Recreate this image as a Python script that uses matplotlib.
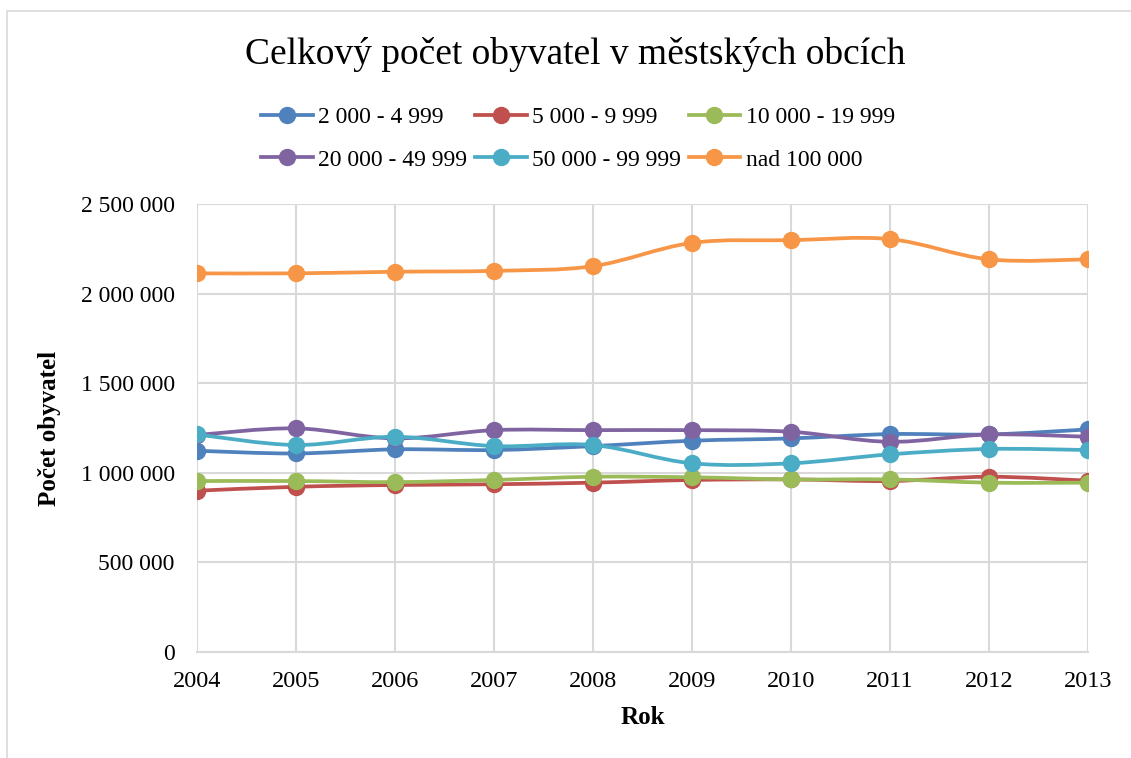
import matplotlib
matplotlib.use("Agg")
import matplotlib.pyplot as plt
from matplotlib.path import Path
from matplotlib.patches import PathPatch, Rectangle
from matplotlib.lines import Line2D
from matplotlib.ticker import FuncFormatter, MultipleLocator

years = [2004, 2005, 2006, 2007, 2008, 2009, 2010, 2011, 2012, 2013]
labels = ["2 000 - 4 999", "5 000 - 9 999", "10 000 - 19 999",
          "20 000 - 49 999", "50 000 - 99 999", "nad 100 000"]
s_2000 = [1123000, 1108000, 1131000, 1127000, 1149000, 1179000, 1192000, 1216000, 1214000, 1242000]
s_5000 = [900000, 922000, 932000, 936000, 945000, 960000, 963000, 954000, 978000, 956000]
s_10000 = [954000, 954000, 948000, 960000, 978000, 975000, 963000, 963000, 945000, 945000]
s_20000 = [1211000, 1248000, 1192000, 1238000, 1238000, 1238000, 1229000, 1173000, 1214000, 1201000]
s_50000 = [1214000, 1155000, 1201000, 1149000, 1155000, 1053000, 1053000, 1103000, 1133000, 1127000]
s_100000 = [2113000, 2113000, 2122000, 2127000, 2153000, 2283000, 2298000, 2304000, 2191000, 2191000]
series = [s_2000, s_5000, s_10000, s_20000, s_50000, s_100000]
colors = ["#4F81BD", "#C0504D", "#9BBB59", "#8064A2", "#4BACC6", "#F79646"]

plt.rcParams['font.family'] = ['Liberation Serif', 'DejaVu Serif']

fig = plt.figure(figsize=(11.31, 7.58), dpi=100)
ax = fig.add_axes([197/1131, 1-652/758, (1088-197)/1131, (652-204)/758])

def smooth_path(xs, ys):
    n = len(xs)
    verts = [(xs[0], ys[0])]
    codes = [Path.MOVETO]
    for i in range(n - 1):
        x0, y0 = (xs[i-1], ys[i-1]) if i > 0 else (xs[i], ys[i])
        x1, y1 = xs[i], ys[i]
        x2, y2 = xs[i+1], ys[i+1]
        x3, y3 = (xs[i+2], ys[i+2]) if i + 2 < n else (xs[i+1], ys[i+1])
        c1 = (x1 + (x2 - x0) / 6, y1 + (y2 - y0) / 6)
        c2 = (x2 - (x3 - x1) / 6, y2 - (y3 - y1) / 6)
        verts += [c1, c2, (x2, y2)]
        codes += [Path.CURVE4] * 3
    return Path(verts, codes)

handles = []
for k, (vals, col, lab) in enumerate(zip(series, colors, labels)):
    patch = PathPatch(smooth_path(years, vals), facecolor='none', edgecolor=col,
                      lw=2.7, zorder=3 + k * 0.1, capstyle='round', joinstyle='round')
    ax.add_patch(patch)
    ax.plot(years, vals, linestyle='none', marker='o', markersize=11.5,
            color=col, zorder=3.05 + k * 0.1)
    handles.append(Line2D([], [], color=col, lw=2.7, marker='o', markersize=11.5))

ax.set_xlim(2004, 2013)
ax.set_ylim(0, 2500000)
ax.set_xticks(years)
ax.yaxis.set_major_locator(MultipleLocator(500000))
ax.yaxis.set_major_formatter(FuncFormatter(lambda v, p: f"{int(v):,}".replace(",", " ")))
ax.grid(True, color="#D9D9D9", lw=1.5, zorder=0)
ax.set_axisbelow(True)
for s in ['top', 'right', 'left']:
    ax.spines[s].set_visible(False)
ax.spines['bottom'].set_color("#D9D9D9")
ax.spines['bottom'].set_linewidth(1.5)
ax.tick_params(axis='y', length=0, labelsize=17, pad=16)
ax.tick_params(axis='x', length=0, labelsize=17.5, pad=14)

ax.set_xlabel("Rok", fontsize=18, fontweight='bold', labelpad=10)
ax.set_ylabel("Počet obyvatel", fontsize=18, fontweight='bold', labelpad=14)

fig.text(575/1131, 1-55/758, "Celkový počet obyvatel v městských obcích",
         fontsize=27, ha='center', va='center')

order = [0, 3, 1, 4, 2, 5]
fig.legend(handles=[handles[i] for i in order], labels=[labels[i] for i in order],
           loc='center', ncol=3,
           bbox_to_anchor=(578/1131, 1-138.5/758), frameon=False, fontsize=17,
           handlelength=2.18, handletextpad=0.23, columnspacing=0.33,
           labelspacing=0.9)

fig.patches.append(Rectangle((7/1131, -0.1), 1.2, 1-11/758 + 0.1, transform=fig.transFigure,
                             fill=False, edgecolor="#D9D9D9", lw=1.2))

fig.savefig("out.png", dpi=100)
